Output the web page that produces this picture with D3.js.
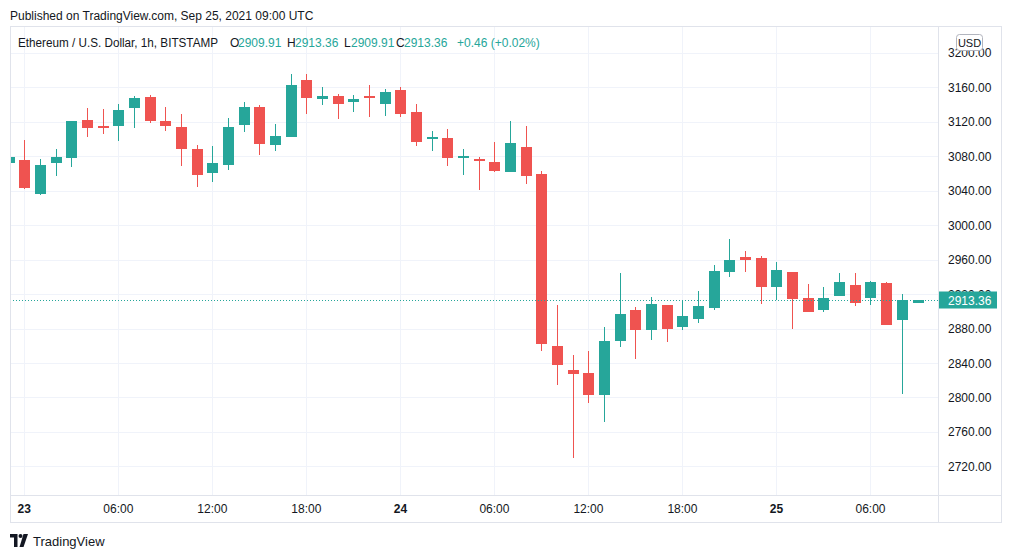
<!DOCTYPE html>
<html>
<head>
<meta charset="utf-8">
<script src="https://cdn.jsdelivr.net/npm/d3@7"></script>
<style>
  body { margin: 0; background: #fff; }
  svg text { font-family: "Liberation Sans", Arial, sans-serif; }
</style>
</head>
<body>
<svg id="chart" width="1012" height="558"></svg>
<script>
// hourly ETH/USD candles, first one is Sep 22 23:00 UTC
const firstHour = "2021-09-22T23:00:00Z";
const opens = [3072.7, 3075.9, 3035.7, 3072.7, 3078.5, 3122.2, 3115.2, 3115.6, 3136.4, 3148.8,
  3121.0, 3114.0, 3088.6, 3060.0, 3069.3, 3116.7, 3137.2, 3093.6, 3102.8, 3168.4,
  3146.8, 3149.9, 3143.3, 3149.9, 3141.0, 3156.9, 3131.4, 3101.7, 3101.3, 3077.4,
  3077.0, 3073.5, 3061.2, 3090.9, 3059.4, 2859.8, 2832.1, 2828.5, 2803.3, 2865.9,
  2901.6, 2878.7, 2907.4, 2882.2, 2891.5, 2904.2, 2946.0, 2963.0, 2961.9, 2928.6,
  2945.7, 2915.2, 2901.9, 2918.2, 2930.6, 2915.8, 2932.9, 2890.3, 2909.91];
const highs = [3082.0, 3099.0, 3077.0, 3088.6, 3121.0, 3136.0, 3134.9, 3140.7, 3149.9, 3151.1,
  3137.2, 3129.1, 3093.2, 3092.0, 3124.5, 3143.0, 3139.5, 3117.5, 3175.4, 3175.4,
  3160.3, 3152.2, 3151.1, 3162.7, 3158.0, 3160.3, 3140.7, 3109.4, 3111.7, 3088.6,
  3079.3, 3096.7, 3121.0, 3115.2, 3062.9, 2907.4, 2849.3, 2854.0, 2881.8, 2944.5,
  2905.0, 2916.6, 2907.4, 2913.2, 2923.8, 2953.8, 2983.9, 2970.0, 2964.2, 2957.3,
  2945.7, 2931.7, 2928.2, 2944.5, 2944.5, 2935.2, 2934.1, 2920.2, 2913.36];
const lows = [3070.0, 3041.5, 3035.5, 3056.5, 3067.0, 3102.8, 3106.3, 3098.2, 3113.2, 3119.0,
  3109.8, 3068.1, 3043.8, 3049.6, 3063.5, 3108.6, 3082.0, 3086.6, 3102.8, 3129.4,
  3139.9, 3123.7, 3131.8, 3126.0, 3127.1, 3126.0, 3092.4, 3085.5, 3068.1, 3057.7,
  3040.3, 3061.2, 3061.2, 3047.3, 2854.0, 2814.9, 2730.0, 2794.0, 2772.0, 2859.0,
  2845.0, 2867.1, 2864.8, 2878.7, 2886.8, 2901.9, 2940.2, 2946.0, 2908.9, 2913.5,
  2879.9, 2899.6, 2899.6, 2918.2, 2906.5, 2907.7, 2884.5, 2804.4, 2909.91];
const closes = [3079.3, 3042.6, 3070.1, 3079.3, 3121.0, 3113.2, 3113.2, 3133.7, 3147.6, 3121.3,
  3115.6, 3088.9, 3057.7, 3072.4, 3114.0, 3137.2, 3094.7, 3103.6, 3162.7, 3148.0,
  3149.9, 3141.0, 3146.5, 3148.0, 3154.6, 3129.4, 3097.0, 3102.5, 3077.4, 3080.5,
  3073.9, 3062.3, 3095.5, 3056.5, 2862.4, 2838.1, 2827.6, 2803.3, 2865.6, 2897.0,
  2878.7, 2908.5, 2879.9, 2894.6, 2906.2, 2946.8, 2959.6, 2960.0, 2928.6, 2948.0,
  2914.7, 2899.6, 2915.5, 2934.1, 2910.0, 2934.1, 2884.5, 2912.90, 2913.36];

const priceTicks = [2720, 2760, 2800, 2840, 2880, 2920, 2960, 3000, 3040, 3080, 3120, 3160, 3200];
const timeTicks = ["2021-09-23T00:00:00Z", "2021-09-23T06:00:00Z", "2021-09-23T12:00:00Z",
  "2021-09-23T18:00:00Z", "2021-09-24T00:00:00Z", "2021-09-24T06:00:00Z", "2021-09-24T12:00:00Z",
  "2021-09-24T18:00:00Z", "2021-09-25T00:00:00Z", "2021-09-25T06:00:00Z"];
const timeLabels = ["23", "06:00", "12:00", "18:00", "24", "06:00", "12:00", "18:00", "25", "06:00"];

const up = "#26a69a", down = "#ef5350", grid = "#f0f3fa", border = "#e0e3eb", ink = "#131722";
const pane = { left: 10, right: 938, top: 26, bottom: 495 };
const outerRight = 1001, outerBottom = 522;

const hours = opens.map((d, i) => d3.utcHour.offset(new Date(firstHour), i));
const candles = hours.map((t, i) => ({ t, o: opens[i], h: highs[i], l: lows[i], c: closes[i] }));

const x = d3.scaleUtc()
  .domain([new Date("2021-09-23T00:00:00Z"), new Date("2021-09-25T09:00:00Z")])
  .range([24.3, 917.5]);
const y = d3.scaleLinear().domain([2720, 3160]).range([466.4, 87.3]);

const svg = d3.select("#chart");

// header
svg.append("text").attr("x", 10).attr("y", 19.5).attr("font-size", 12).attr("fill", ink)
  .text("Published on TradingView.com, Sep 25, 2021 09:00 UTC");

// grid
const g = svg.append("g");
g.selectAll(".vgrid").data(timeTicks).join("line")
  .attr("x1", (d) => Math.round(x(new Date(d))) + 0.5)
  .attr("x2", (d) => Math.round(x(new Date(d))) + 0.5)
  .attr("y1", pane.top).attr("y2", pane.bottom)
  .attr("stroke", grid);
g.selectAll(".hgrid").data(priceTicks).join("line")
  .attr("x1", pane.left).attr("x2", pane.right)
  .attr("y1", (d) => Math.round(y(d)) + 0.5)
  .attr("y2", (d) => Math.round(y(d)) + 0.5)
  .attr("stroke", grid);

// candles, clipped to the pane
svg.append("clipPath").attr("id", "paneClip").append("rect")
  .attr("x", pane.left).attr("y", pane.top)
  .attr("width", pane.right - pane.left).attr("height", pane.bottom - pane.top);

const cg = svg.append("g").attr("clip-path", "url(#paneClip)");
const bodyW = 11;
const col = (d) => (d.c >= d.o ? up : down);

cg.selectAll(".wick").data(candles).join("line")
  .attr("x1", (d) => Math.round(x(d.t)) + 0.5)
  .attr("x2", (d) => Math.round(x(d.t)) + 0.5)
  .attr("y1", (d) => Math.round(y(d.h)))
  .attr("y2", (d) => Math.round(y(d.l)))
  .attr("stroke", col);

cg.selectAll(".body").data(candles).join("rect")
  .attr("x", (d) => Math.round(x(d.t)) + 0.5 - bodyW / 2)
  .attr("width", bodyW)
  .attr("y", (d) => Math.round(y(Math.max(d.o, d.c))))
  .attr("height", (d) => Math.max(2, Math.round(y(Math.min(d.o, d.c))) - Math.round(y(Math.max(d.o, d.c)))))
  .attr("fill", col);

// last price line
const last = candles[candles.length - 1];
const prev = candles[candles.length - 2];
const lastY = Math.round(y(last.c)) + 0.5;
svg.append("line")
  .attr("x1", pane.left).attr("x2", pane.right)
  .attr("y1", lastY).attr("y2", lastY)
  .attr("stroke", up).attr("stroke-dasharray", "1,2");

// frame
svg.append("rect").attr("x", pane.left + 0.5).attr("y", pane.top + 0.5)
  .attr("width", outerRight - pane.left).attr("height", outerBottom - pane.top)
  .attr("fill", "none").attr("stroke", border);
svg.append("line").attr("x1", pane.right + 0.5).attr("x2", pane.right + 0.5)
  .attr("y1", pane.top).attr("y2", outerBottom).attr("stroke", border);
svg.append("line").attr("x1", pane.left).attr("x2", outerRight)
  .attr("y1", pane.bottom + 0.5).attr("y2", pane.bottom + 0.5).attr("stroke", border);

// price axis labels
svg.append("g").selectAll("text").data(priceTicks).join("text")
  .attr("x", 948).attr("y", (d) => y(d) + 4.5)
  .attr("font-size", 12).attr("fill", ink)
  .text((d) => d3.format(".2f")(d));

// time axis labels
svg.append("g").selectAll("text").data(timeTicks).join("text")
  .attr("x", (d) => x(new Date(d)))
  .attr("y", 513)
  .attr("text-anchor", "middle")
  .attr("font-size", 12).attr("fill", ink)
  .attr("font-weight", (d, i) => (timeLabels[i].length === 2 ? "bold" : "normal"))
  .text((d, i) => timeLabels[i]);

// last price tag
svg.append("rect").attr("x", pane.right + 1).attr("y", lastY - 9)
  .attr("width", 58).attr("height", 17).attr("fill", up);
svg.append("text").attr("x", 948).attr("y", lastY + 4)
  .attr("font-size", 12).attr("fill", "#fff").text(d3.format(".2f")(last.c));

// currency badge
svg.append("rect").attr("x", 956.5).attr("y", 34.5).attr("width", 26).attr("height", 16)
  .attr("rx", 3).attr("fill", "#fff").attr("stroke", "#b2b5be");
svg.append("text").attr("x", 969.5).attr("y", 46.5).attr("text-anchor", "middle")
  .attr("font-size", 11).attr("fill", ink).text("USD");

// legend
const fmt = d3.format(".2f");
const change = last.c - prev.c;
const legend = [
  { x: 18, text: "Ethereum / U.S. Dollar, 1h, BITSTAMP", fill: ink, len: 200 },
  { x: 230, text: "O", fill: ink },
  { x: 238, text: fmt(last.o), fill: up },
  { x: 287, text: "H", fill: ink },
  { x: 295, text: fmt(last.h), fill: up },
  { x: 344, text: "L", fill: ink },
  { x: 351, text: fmt(last.l), fill: up },
  { x: 396, text: "C", fill: ink },
  { x: 404, text: fmt(last.c), fill: up },
  { x: 457, text: `+${fmt(change)} (+${fmt(change / prev.c * 100)}%)`, fill: up },
];
svg.append("g").selectAll("text").data(legend).join("text")
  .attr("x", (d) => d.x).attr("y", 46.5)
  .attr("font-size", 12).attr("fill", (d) => d.fill)
  .attr("textLength", (d) => d.len || null)
  .attr("lengthAdjust", (d) => (d.len ? "spacingAndGlyphs" : null))
  .text((d) => d.text);

// footer logo
const logo = svg.append("g").attr("transform", "translate(10,534)").attr("fill", ink);
logo.append("path").attr("d", "M0,0 H7.5 V13 H4 V3.5 H0 Z");
logo.append("circle").attr("cx", 10.5).attr("cy", 2).attr("r", 2);
logo.append("path").attr("d", "M13.5,0 H18 L13.5,13 H9.5 Z");
svg.append("text").attr("x", 33).attr("y", 545.5).attr("font-size", 13).attr("fill", ink)
  .text("TradingView");
</script>
</body>
</html>
